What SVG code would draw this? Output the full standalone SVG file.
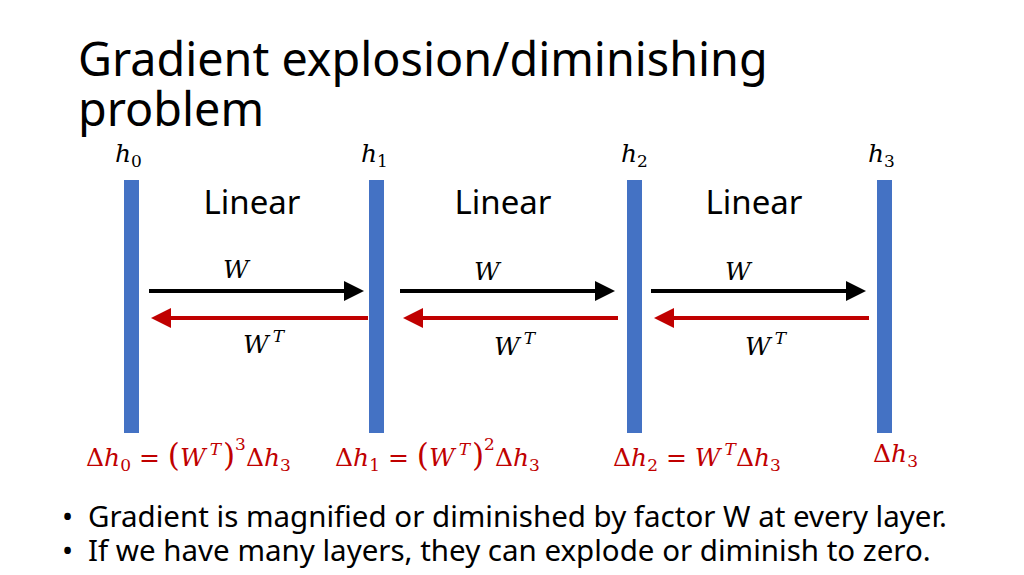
<svg xmlns="http://www.w3.org/2000/svg" width="1024" height="575" viewBox="0 0 1024 575">
<style>
.bar{fill:#4472c4}
.t{font-family:"Noto Sans","Open Sans",sans-serif;fill:#000}
.m{font-family:"DejaVu Serif","Liberation Serif",serif;font-style:italic;font-size:25px;fill:#000}
.r{fill:#c00000}
.up{font-size:17px}
.k{stroke:#000;stroke-width:4;fill:none}
.rd{stroke:#c00000;stroke-width:4;fill:none}
</style>
<defs>
<marker id="ak" markerWidth="5" markerHeight="5" refX="3" refY="2.5" orient="auto" markerUnits="strokeWidth"><path d="M0,0L5,2.5L0,5z" fill="#000"/></marker>
<marker id="ar" markerWidth="5" markerHeight="5" refX="3" refY="2.5" orient="auto" markerUnits="strokeWidth"><path d="M0,0L5,2.5L0,5z" fill="#c00000"/></marker>
</defs>
<rect width="1024" height="575" fill="#fff"/>
<text class="t" x="78" y="76" font-size="46.7">Gradient explosion/diminishing</text>
<text class="t" x="78" y="126" font-size="46.7">problem</text>
<g id="h0"><rect class="bar" x="124" y="180" width="15" height="253"/><text class="m" x="115" y="162">h<tspan class="up" font-style="normal" dy="5">0</tspan></text></g>
<g id="h1"><rect class="bar" x="369" y="180" width="15" height="253"/><text class="m" x="361" y="162">h<tspan class="up" font-style="normal" dy="5">1</tspan></text></g>
<g id="h2"><rect class="bar" x="627" y="180" width="15" height="253"/><text class="m" x="621" y="162">h<tspan class="up" font-style="normal" dy="5">2</tspan></text></g>
<g id="h3"><rect class="bar" x="877" y="180" width="15" height="253"/><text class="m" x="868" y="162">h<tspan class="up" font-style="normal" dy="5">3</tspan></text></g>
<g class="t" font-size="33" text-anchor="middle">
<text x="252" y="214">Linear</text><text x="503" y="214">Linear</text><text x="754" y="214">Linear</text>
</g>
<g id="connectors">
<line class="k" x1="149" y1="291" x2="356" y2="291" marker-end="url(#ak)"/>
<line class="rd" x1="368" y1="318" x2="159" y2="318" marker-end="url(#ar)"/>
<line class="k" x1="400" y1="291" x2="607" y2="291" marker-end="url(#ak)"/>
<line class="rd" x1="618" y1="318" x2="411" y2="318" marker-end="url(#ar)"/>
<line class="k" x1="651" y1="291" x2="858" y2="291" marker-end="url(#ak)"/>
<line class="rd" x1="869" y1="318" x2="662" y2="318" marker-end="url(#ar)"/>
</g>
<g>
<text class="m" x="223" y="278">W</text><text class="m" x="474" y="280">W</text><text class="m" x="725" y="280">W</text>
<text class="m" x="243" y="353">W<tspan class="up" dx="4" dy="-11">T</tspan></text>
<text class="m" x="494" y="355">W<tspan class="up" dx="4" dy="-11">T</tspan></text>
<text class="m" x="745" y="355">W<tspan class="up" dx="4" dy="-11">T</tspan></text>
</g>
<g class="m r" font-size="26">
<text x="86" y="466"><tspan font-style="normal">Δ</tspan>h<tspan class="up" font-style="normal" dy="5">0</tspan><tspan dy="-5" font-style="normal"> = </tspan><tspan font-style="normal" font-size="31">(</tspan>W<tspan class="up" dx="4" dy="-11">T</tspan><tspan dx="2" dy="11" font-style="normal" font-size="31">)</tspan><tspan class="up" font-style="normal" dy="-16">3</tspan><tspan dy="16" font-style="normal">Δ</tspan>h<tspan class="up" font-style="normal" dy="5">3</tspan></text>
<text x="335" y="466"><tspan font-style="normal">Δ</tspan>h<tspan class="up" font-style="normal" dy="5">1</tspan><tspan dy="-5" font-style="normal"> = </tspan><tspan font-style="normal" font-size="31">(</tspan>W<tspan class="up" dx="4" dy="-11">T</tspan><tspan dx="2" dy="11" font-style="normal" font-size="31">)</tspan><tspan class="up" font-style="normal" dy="-16">2</tspan><tspan dy="16" font-style="normal">Δ</tspan>h<tspan class="up" font-style="normal" dy="5">3</tspan></text>
<text x="613" y="466"><tspan font-style="normal">Δ</tspan>h<tspan class="up" font-style="normal" dy="5">2</tspan><tspan dy="-5" font-style="normal"> = </tspan>W<tspan class="up" dx="4" dy="-11">T</tspan><tspan dy="11" font-style="normal">Δ</tspan>h<tspan class="up" font-style="normal" dy="5">3</tspan></text>
<text x="873" y="462"><tspan font-style="normal">Δ</tspan>h<tspan class="up" font-style="normal" dy="5">3</tspan></text>
</g>
<g class="t" font-size="29.5">
<text x="62" y="527">•</text><text x="88" y="527">Gradient is magnified or diminished by factor W at every layer.</text>
<text x="62" y="561">•</text><text x="88" y="561">If we have many layers, they can explode or diminish to zero.</text>
</g>
</svg>
